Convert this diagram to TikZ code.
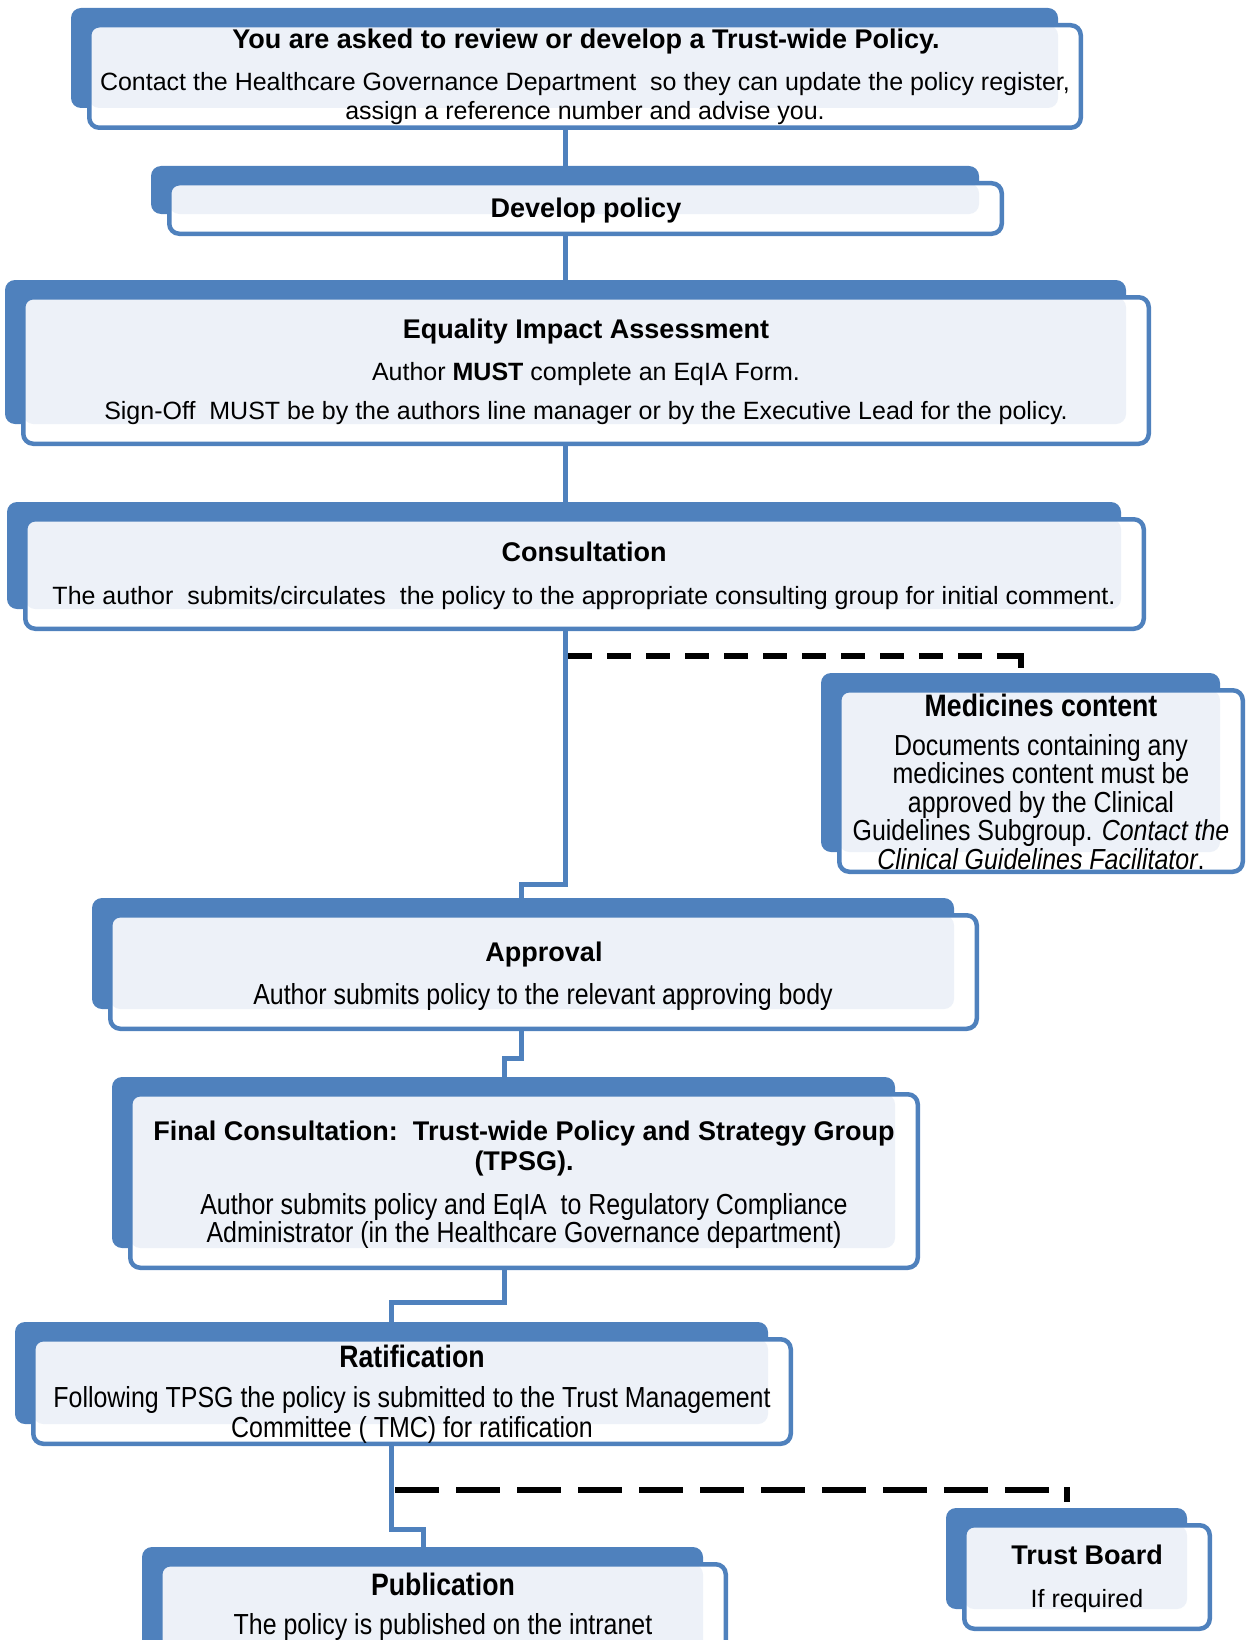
\documentclass[tikz,border=0pt]{standalone}
\usepackage{fontspec}
\setmainfont{Liberation Sans}
\newfontfamily\narrowfont[FakeStretch=0.86]{Liberation Sans}

\definecolor{boxblue}{HTML}{4F81BD}
\definecolor{boxlight}{HTML}{EDF1F8}

\pgfdeclarelayer{background}
\pgfsetlayers{background,main}

\tikzset{
  frontbox/.style={draw=boxblue, line width=4.5pt, rounded corners=10pt, inner sep=0pt},
  link/.style={draw=boxblue, line width=5pt},
  optional/.style={draw=black, line width=6pt},
  headtext/.style={font=\fontsize{27}{30}\selectfont\bfseries, align=center, inner sep=0pt, anchor=north},
  bodytext/.style={font=\fontsize{25}{29}\selectfont, align=center, inner sep=0pt, anchor=north},
  narrowhead/.style={font=\narrowfont\fontsize{31}{30}\selectfont\bfseries, align=center, inner sep=0pt, anchor=north},
  narrowbody/.style={font=\narrowfont\fontsize{29}{28.5}\selectfont, align=center, inner sep=0pt, anchor=north},
}

% back plate, front box and shaded overlap: name, left, top, right, bottom
\newcommand{\flowbox}[5]{%
  \fill[boxblue, rounded corners=10pt] ({#2-16},{#3-15}) rectangle ({#4-25},{#5-22});
  \fill[white, rounded corners=10pt] ({#2+2.25},{#3+2.25}) rectangle ({#4-2.25},{#5-2.25});
  \fill[boxlight, rounded corners=10pt] ({#2+2.25},{#3+2.25}) rectangle ({#4-25},{#5-22});
  \node[frontbox, minimum width={#4-#2-4.5}, minimum height={#5-#3-4.5}] (#1) at ({(#2+#4)/2},{(#3+#5)/2}) {};
}

\begin{document}
\begin{tikzpicture}[x=1pt, y=-1pt]
\useasboundingbox (0,0) rectangle (1253,1640);

% boxes
\flowbox{ask}{87}{23}{1083}{130}
\flowbox{develop}{167}{181}{1004}{236}
\flowbox{eqia}{21}{295}{1151}{446}
\flowbox{consult}{23}{517}{1146}{631}
\flowbox{medicines}{837}{688}{1245}{874}
\flowbox{approval}{108}{913}{979}{1031}
\flowbox{final}{128}{1092}{920}{1270}
\flowbox{ratify}{31}{1337}{793}{1446}
\flowbox{publish}{158}{1562}{728}{1690}
\flowbox{board}{962}{1523}{1212}{1631}

% texts
\node[headtext] (ask-title) at (586,29) {You are asked to review or develop a Trust-wide Policy.};
\node[bodytext] (ask-text) at (585,72) {Contact the Healthcare Governance Department\ \ so they can update the policy register,\\ assign a reference number and advise you.};
\node[headtext] (develop-title) at (586,198) {Develop policy};
\node[headtext] (eqia-title) at (586,319) {Equality Impact Assessment};
\node[bodytext] (eqia-text) at (586,362) {Author \textbf{MUST} complete an EqIA Form.\\[10pt] Sign-Off\ \ MUST be by the authors line manager or by the Executive Lead for the policy.};
\node[headtext] (consult-title) at (584,542) {Consultation};
\node[bodytext] (consult-text) at (584,586) {The author\ \ submits/circulates\ \ the policy to the appropriate consulting group for initial comment.};
\node[narrowhead] (medicines-title) at (1041,694) {Medicines content};
\node[narrowbody] (medicines-text) at (1041,734) {Documents containing any\\ medicines content must be\\ approved by the Clinical\\ Guidelines Subgroup. \textit{Contact the}\\ \textit{Clinical Guidelines Facilitator}.};
\node[headtext] (approval-title) at (544,942) {Approval};
\node[narrowbody] (approval-text) at (543,983) {Author submits policy to the relevant approving body};
\node[headtext] (final-title) at (524,1121) {Final Consultation:\ \ Trust-wide Policy and Strategy Group\\ (TPSG).};
\node[narrowbody, font=\narrowfont\fontsize{29}{28}\selectfont] (final-text) at (524,1193) {Author submits policy and EqIA\ \ to Regulatory Compliance\\ Administrator (in the Healthcare Governance department)};
\node[narrowhead] (ratify-title) at (412,1345) {Ratification};
\node[narrowbody, font=\narrowfont\fontsize{29}{30}\selectfont] (ratify-text) at (412,1386) {Following TPSG the policy is submitted to the Trust Management\\ Committee ( TMC) for ratification};
\node[narrowhead] (publish-title) at (443,1573) {Publication};
\node[narrowbody] (publish-text) at (443,1613) {The policy is published on the intranet};
\node[headtext] (board-title) at (1087,1545) {Trust Board};
\node[bodytext] (board-text) at (1087,1589) {If required};

% connector bends
\coordinate (spine) at (565,0);
\coordinate (bend4) at (521,884);
\coordinate (bend5) at (504,1058);
\coordinate (bend6) at (391,1302);
\coordinate (bend7) at (423,1529);

\begin{pgfonlayer}{background}
\draw[link] (ask.south -| spine) -- (develop.north -| spine);
\draw[link] (develop.south -| spine) -- (eqia.north -| spine);
\draw[link] (eqia.south -| spine) -- (consult.north -| spine);
\draw[link] (consult.south -| spine) |- (bend4) -- (approval.north -| bend4);
\draw[link] (approval.south -| bend4) |- (bend5) -- (final.north -| bend5);
\draw[link] (final.south -| bend5) |- (bend6) -- (ratify.north -| bend6);
\draw[link] (ratify.south -| bend6) |- (bend7) -- (publish.north -| bend7);
\end{pgfonlayer}

% optional routes
\coordinate (dash1) at (1021,656);
\coordinate (dash2) at (1067,1490);
\draw[optional, dash pattern=on 24pt off 15pt] ([xshift=3pt]dash1 -| spine) -- (dash1);
\draw[optional] ([yshift=3pt]dash1) -- ([yshift=-12pt]dash1);
\draw[optional, dash pattern=on 44pt off 17pt] ([xshift=4pt]dash2 -| bend6) -- (dash2);
\draw[optional] ([yshift=3pt]dash2) -- ([yshift=-12pt]dash2);
\end{tikzpicture}
\end{document}
